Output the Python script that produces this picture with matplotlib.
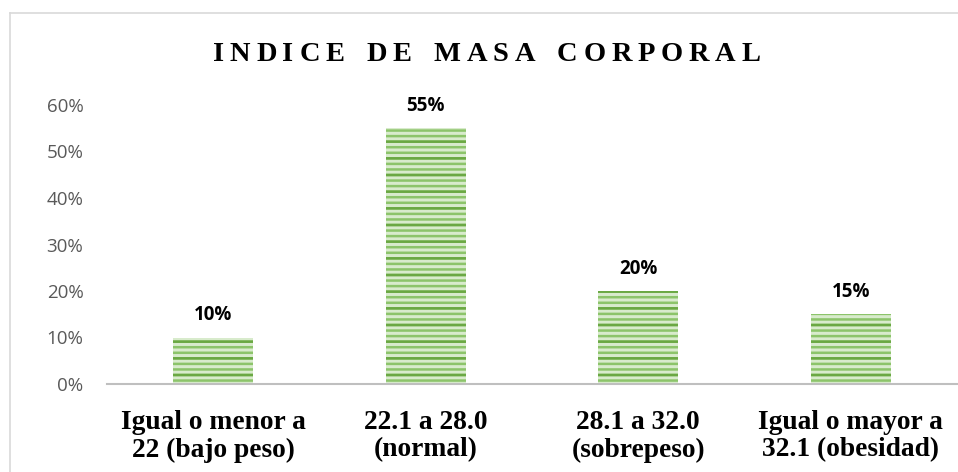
import matplotlib
matplotlib.use("Agg")
import matplotlib.pyplot as plt
from matplotlib.font_manager import FontProperties
from matplotlib.lines import Line2D

categories = ["Igual o menor a\n22 (bajo peso)", "22.1 a 28.0\n(normal)",
              "28.1 a 32.0\n(sobrepeso)", "Igual o mayor a\n32.1 (obesidad)"]
values = [0.10, 0.55, 0.20, 0.15]
value_labels = ["10%", "55%", "20%", "15%"]
yticks = [0.0, 0.1, 0.2, 0.3, 0.4, 0.5, 0.6]
ytick_labels = ["0%", "10%", "20%", "30%", "40%", "50%", "60%"]
title = "INDICE DE MASA CORPORAL"

W, H, DPI = 958, 472, 100
plt.rcParams['hatch.linewidth'] = 1.8
fig = plt.figure(figsize=(W / DPI, H / DPI), dpi=DPI)
fig.patch.set_facecolor("white")

# outer chart frame (left and top edges visible)
fig.add_artist(Line2D([9.5 / W, 9.5 / W], [0, 1 - 13 / H], transform=fig.transFigure,
                      color="#d9d9d9", lw=1.2))
fig.add_artist(Line2D([9.5 / W, 1], [1 - 13 / H, 1 - 13 / H], transform=fig.transFigure,
                      color="#d9d9d9", lw=1.2))

ax = fig.add_axes([107 / W, (H - 384) / H, (957 - 107) / W, (384 - 105) / H])
x = list(range(len(categories)))
ax.bar(x, values, width=0.376, color="#d8ebcc", edgecolor="#8cc46a", linewidth=0,
       hatch="---", zorder=2)
ax.bar(x, values, width=0.376, color="none", edgecolor="#6aa843", linewidth=0,
       hatch="-", zorder=3)
ax.set_xlim(-0.5, 3.5)
ax.set_ylim(0, 0.6)
ax.set_yticks(yticks)
ax.set_yticklabels(ytick_labels, fontfamily="Open Sans", fontsize=13.5, color="#595959")
ax.set_xticks(x)
ax.set_xticklabels(categories, fontfamily="Liberation Serif", fontweight="bold",
                   fontsize=19.8, color="black", linespacing=1.15)
ax.tick_params(axis="both", length=0)
ax.tick_params(axis="y", pad=17)
ax.tick_params(axis="x", pad=18.5)
for s in ["top", "right", "left"]:
    ax.spines[s].set_visible(False)
ax.spines["bottom"].set_color("#bfbfbf")
ax.spines["bottom"].set_linewidth(1.5)

for xi, v, lab in zip(x, values, value_labels):
    ax.annotate(lab, (xi, v), xytext=(0, 12.5), textcoords="offset points",
                ha="center", va="baseline", fontfamily="Open Sans", fontweight="bold",
                fontsize=13.5, color="black", zorder=5)

# letter-spaced title
prop = FontProperties(family="Liberation Serif", weight="bold", size=20.5)
renderer = fig.canvas.get_renderer()
widths = []
for ch in title:
    if ch == " ":
        widths.append(None)
    else:
        w, h, d = renderer.get_text_width_height_descent(ch, prop, ismath=False)
        widths.append(w)
x0, x1 = 213, 760
word_gap = 22.0
n_space = title.count(" ")
letters_w = sum(w for w in widths if w is not None)
n_gaps = len(title) - 1 - 2 * n_space  # gaps between adjacent letters
tracking = ((x1 - x0) - letters_w - word_gap * n_space) / n_gaps
cx = x0
base_y = 1 - 61 / H
for i, (ch, w) in enumerate(zip(title, widths)):
    if ch == " ":
        cx += word_gap
        continue
    fig.text(cx / W, base_y, ch, fontproperties=prop, ha="left", va="baseline", color="black")
    cx += w
    if i + 1 < len(title) and title[i + 1] != " ":
        cx += tracking

fig.savefig("out.png", dpi=DPI)
